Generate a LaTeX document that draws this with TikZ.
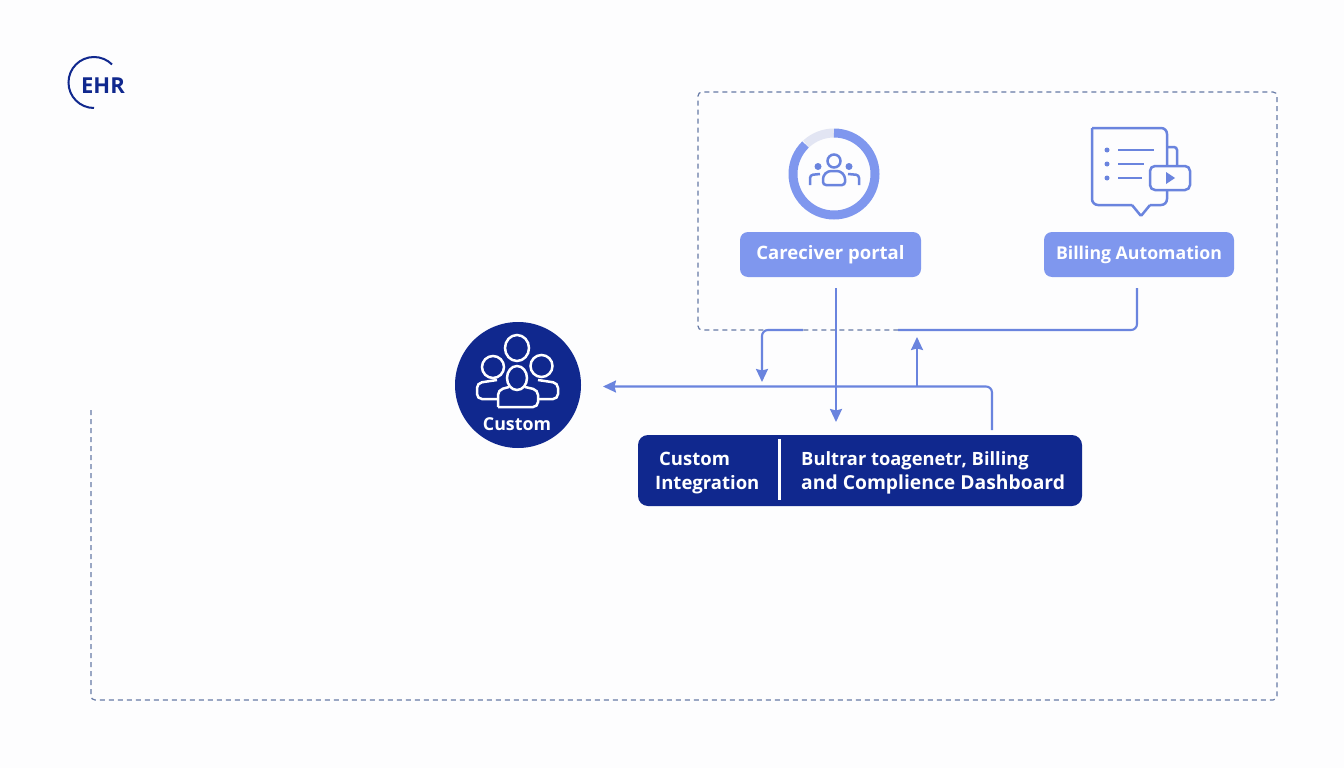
\documentclass[tikz,border=0pt]{standalone}
\usepackage{fontspec}
\setmainfont{Open Sans}
\usetikzlibrary{arrows.meta}
\definecolor{navy}{HTML}{10288E}
\definecolor{pillblue}{HTML}{7F97EE}
\definecolor{linkblue}{HTML}{6A84DE}
\definecolor{framegray}{HTML}{667AA6}
\definecolor{ghost}{HTML}{E2E5F3}
\definecolor{paper}{HTML}{FDFDFE}
\tikzset{
    pillbox/.style = {fill = pillblue, rectangle, rounded corners = 8pt, text = white, minimum height = 45pt, outer sep = 11pt},
    darktext/.style = {text = white, inner sep = 0pt},
    linkline/.style = {linkblue, line width = 2.1pt, rounded corners = 6pt},
    linkarrow/.style = {linkline, -{Stealth[length = 13pt, width = 12pt, inset = 1.5pt]}},
    dashframe/.style = {framegray, line width = 1.2pt, dash pattern = on 5pt off 4pt, rounded corners = 4pt},
    iconline/.style = {linkblue, line width = 2.5pt, rounded corners = 3pt},
    whiteline/.style = {white, line width = 2.5pt, rounded corners = 5pt}
}
\begin{document}
\begin{tikzpicture}[x = 1pt, y = -1pt]
\fill[paper] (0,0) rectangle (1344,768);
\useasboundingbox (0,0) rectangle (1344,768);

\draw[dashframe] (91,410) -- (91,700) -- (1277,700) -- (1277,92) -- (698,92) -- (698,330) -- (898,330);

\node[navy, inner sep = 0pt, font = \fontsize{22}{24}\selectfont\bfseries] (EHR) at (103,86) {EHR};
\draw[navy, line width = 2pt] (94,82.5) ++(270:25.5pt) arc[start angle = 270, end angle = 45, radius = 25.5pt];

\node[pillbox, minimum width = 181pt, font = \fontsize{18.5}{20}\selectfont\bfseries] (P) at (830.5,254.5) {Careciver portal};
\node[pillbox, minimum width = 190pt, font = \fontsize{17.7}{20}\selectfont\bfseries] (B) at (1139,254.5) {Billing Automation};
\node[fill = navy, circle, minimum size = 126pt, inner sep = 0pt, outer sep = 22pt] (C) at (518,385) {};
\node[text = white, inner sep = 0pt, font = \fontsize{17.8}{20}\selectfont\bfseries] (CL) at (517,424) {Custom};
\node[fill = navy, rectangle, rounded corners = 10pt, minimum width = 444pt, minimum height = 71pt, outer sep = 13pt] (BAR) at (860,470.5) {};
\node[darktext, align = left, anchor = west, font = \fontsize{18.5}{24.5}\selectfont\bfseries] (BL) at (655,473) {\hspace{4pt}Custom\\Integration};
\node[darktext, align = left, anchor = west, font = \fontsize{19.3}{24.5}\selectfont\bfseries] (BR) at (801,473) {{\fontsize{18.3}{24.5}\selectfont Bultrar toagenetr, Billing}\\and Complience Dashboard};
\draw[white, line width = 3pt] (779,439) -- (779,500);

\coordinate (J) at (917,386.5);
\coordinate (K) at (917,337);
\coordinate (G1) at (898,330);
\coordinate (G2) at (803,330);
\coordinate (E) at (762,382);

\draw[linkarrow] ([xshift = 5.5pt]P.south) -- ([xshift = -24pt]BAR.north);
\draw[linkline] ([xshift = -2pt]B.south) |- (G1);
\draw[linkarrow] (G2) -| (E);
\draw[linkarrow] ([xshift = 132pt, yshift = -8pt]BAR.north) |- ([yshift = -1.5pt]C.east);
\draw[linkarrow] (J) -- (K);

\draw[ghost, line width = 9pt] (834,174) ++(90:41pt) arc[start angle = 90, end angle = 133, radius = 41pt];
\draw[pillblue, line width = 9pt] (834,174) ++(90:41pt) arc[start angle = 90, end angle = -226, radius = 41pt];
\draw[iconline] (834,161) circle[radius = 6.5pt];
\draw[iconline] (823,185) -- (823,176) -- (828,171) -- (840,171) -- (845,176) -- (845,185) -- cycle;
\fill[linkblue] (818,166.5) circle[radius = 3.5pt];
\fill[linkblue] (849,166.5) circle[radius = 3.5pt];
\draw[iconline] (810,185) -- (810,175) -- (820,174);
\draw[iconline] (859,185) -- (859,175) -- (848,174);

\draw[iconline, rounded corners = 6pt] (1092,128) -- (1167,128) -- (1167,205) -- (1150,205);
\draw[iconline, rounded corners = 6pt] (1132,205) -- (1092,205) -- (1092,128);
\draw[iconline, rounded corners = 1pt] (1150,205) -- (1141,216) -- (1132,205);
\draw[iconline, rounded corners = 3pt] (1167,147) -- (1177,147) -- (1177,166);
\draw[iconline, fill = paper, rounded corners = 5pt] (1150,166) rectangle (1190,190);
\fill[linkblue] (1166,172) -- (1175,178) -- (1166,184) -- cycle;
\foreach \y/\x in {150/1154,164/1144,178/1142} {
    \fill[linkblue] (1107,\y) circle[radius = 2.5pt];
    \draw[iconline] (1118,\y) -- (\x,\y);
}

\draw[whiteline] (517,348) ellipse[x radius = 12pt, y radius = 13pt];
\draw[whiteline] (493,367) circle[radius = 11pt];
\draw[whiteline] (541.5,366) circle[radius = 11pt];
\draw[whiteline] (517,378) ellipse[x radius = 10pt, y radius = 12pt];
\draw[whiteline] (497,380) -- (477,383) -- (477,399) -- (498,399);
\draw[whiteline] (538,380) -- (558,383) -- (558,399) -- (537,399);
\draw[whiteline] (498,407) -- (498,390) -- (509,387);
\draw[whiteline] (525,387) -- (538,390) -- (538,407) -- (498,407);
\end{tikzpicture}
\end{document}
